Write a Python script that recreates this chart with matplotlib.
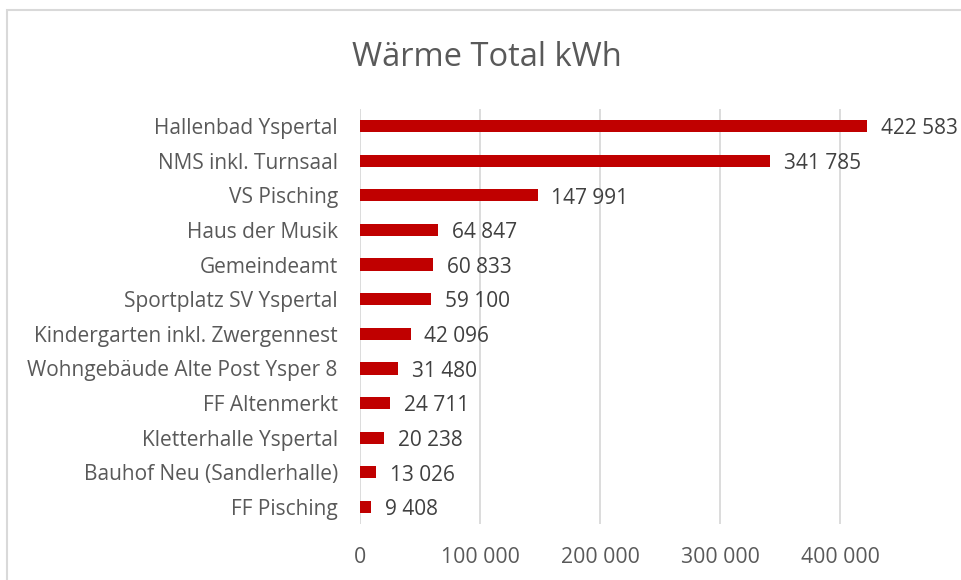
import matplotlib.pyplot as plt
from matplotlib.patches import Rectangle

# data, top to bottom as in the chart
buildings = ['Hallenbad Yspertal', 'NMS inkl. Turnsaal', 'VS Pisching', 'Haus der Musik',
             'Gemeindeamt', 'Sportplatz SV Yspertal', 'Kindergarten inkl. Zwergennest',
             'Wohngebäude Alte Post Ysper 8', 'FF Altenmerkt', 'Kletterhalle Yspertal',
             'Bauhof Neu (Sandlerhalle)', 'FF Pisching']
heat_kwh = [422583, 341785, 147991, 64847, 60833, 59100, 42096, 31480, 24711, 20238, 13026, 9408]
x_ticks = [0, 100000, 200000, 300000, 400000]

FONT = ['Open Sans', 'DejaVu Sans']
TEXT = '#595959'


def fmt(v):
    return f'{v:,}'.replace(',', ' ')


def main():
    plt.rcParams['font.family'] = FONT
    fig = plt.figure(figsize=(9.62, 5.8), dpi=100)
    ax = fig.add_axes([360 / 962, 1 - 524.3 / 580, 600 / 962, (524.3 - 108.7) / 580])

    pos = list(range(len(buildings)))
    ax.barh(pos, heat_kwh, height=0.35, color='#C00000', zorder=3)
    for p, v in zip(pos, heat_kwh):
        ax.annotate(fmt(v), (v, p), xytext=(10, -2), textcoords='offset points',
                    va='center', ha='left', fontsize=15, color='#404040')

    ax.set_xlim(0, 500000)
    ax.set_ylim(len(buildings) - 0.5, -0.5)
    ax.set_yticks(pos)
    ax.set_yticklabels(buildings, fontsize=15, color=TEXT)
    ax.set_xticks(x_ticks)
    ax.set_xticklabels([fmt(t) for t in x_ticks], fontsize=15.3, color=TEXT)
    ax.tick_params(length=0)
    ax.tick_params(axis='x', pad=16)
    ax.tick_params(axis='y', pad=16)
    ax.grid(axis='x', color='#D9D9D9', linewidth=1.3, zorder=0)
    for s in ax.spines.values():
        s.set_visible(False)

    fig.text(487 / 962, 1 - 57 / 580, 'Wärme Total kWh', ha='center', va='center',
             fontsize=23.5, color=TEXT)

    # chart frame, cut off at right and bottom
    fig.add_artist(Rectangle((7 / 962, -0.5), 2, 1.5 - 10 / 580,
                             transform=fig.transFigure, fill=False,
                             edgecolor='#D9D9D9', linewidth=1.5))

    fig.savefig('out.png', dpi=100)


if __name__ == "__main__":
    main()
